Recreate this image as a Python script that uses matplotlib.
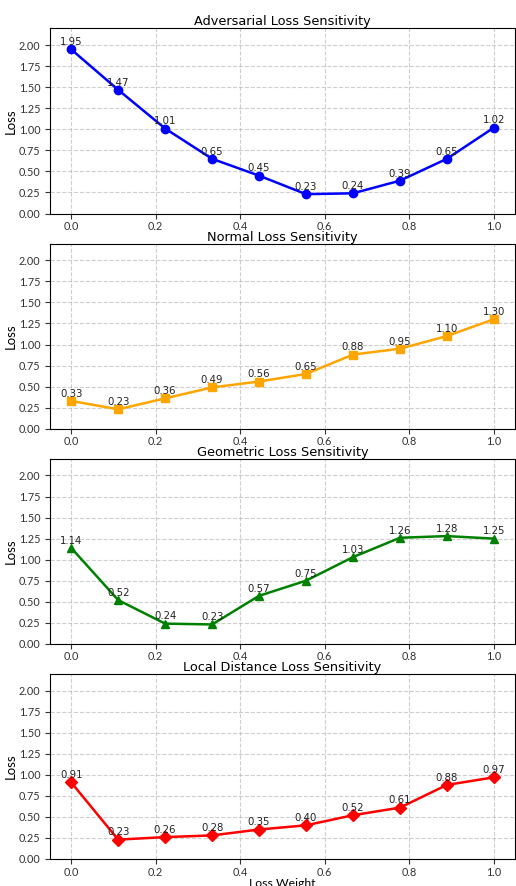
import matplotlib
matplotlib.use("Agg")
import matplotlib.pyplot as plt
import numpy as np

# loss weights used in the sweep
weights = np.linspace(0, 1, 10)

adversarial = [1.95, 1.47, 1.01, 0.65, 0.45, 0.23, 0.24, 0.39, 0.65, 1.02]
normal = [0.33, 0.23, 0.36, 0.49, 0.56, 0.65, 0.88, 0.95, 1.10, 1.30]
geometric = [1.14, 0.52, 0.24, 0.23, 0.57, 0.75, 1.03, 1.26, 1.28, 1.25]
local_dist = [0.91, 0.23, 0.26, 0.28, 0.35, 0.40, 0.52, 0.61, 0.88, 0.97]

series = [
    ("Adversarial Loss Sensitivity", adversarial, "blue", "o"),
    ("Normal Loss Sensitivity", normal, "orange", "s"),
    ("Geometric Loss Sensitivity", geometric, "green", "^"),
    ("Local Distance Loss Sensitivity", local_dist, "red", "D"),
]

fig, axes = plt.subplots(4, 1, figsize=(5.16, 8.86), dpi=100)
fig.subplots_adjust(left=0.097, right=0.998, top=0.968, bottom=0.0305, hspace=0.162)

for ax, (title, vals, color, marker) in zip(axes, series):
    ax.plot(weights, vals, color=color, marker=marker, linewidth=1.8, markersize=6)
    for x, y in zip(weights, vals):
        ax.annotate(f"{y:.2f}", (x, y), textcoords="offset points", xytext=(0, 3),
                    ha="center", fontsize=7.3, color="#222222")
    ax.set_title(title, fontsize=9.3, pad=2)
    ax.set_ylabel("Loss", fontsize=9.5, family="Lato", labelpad=1)
    ax.set_ylim(0, 2.2)
    ax.set_yticks(np.arange(0, 2.01, 0.25))
    ax.set_xlim(-0.05, 1.05)
    ax.tick_params(labelsize=7.8, colors="#333333", labelcolor="#333333")
    ax.tick_params(axis="x", pad=2)
    for lab in ax.get_xticklabels() + ax.get_yticklabels():
        lab.set_family("Lato")
    ax.grid(True, linestyle="--", alpha=0.6)

axes[-1].set_xlabel("Loss Weight", fontsize=8.8, family="Lato", labelpad=0)

fig.savefig("out.png", dpi=100)
